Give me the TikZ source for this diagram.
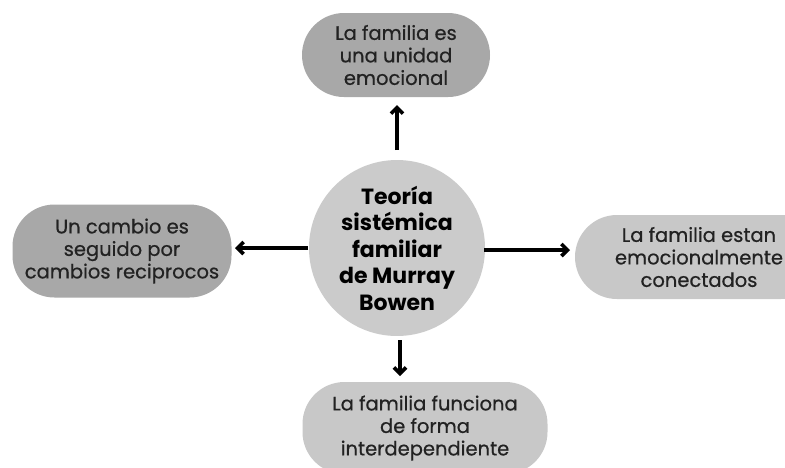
\documentclass[tikz,border=0pt]{standalone}
\usepackage{fontspec}
\setmainfont{Poppins}
\newfontfamily\pillfont{Poppins}[FakeBold=0.6]
\usetikzlibrary{arrows.meta,shapes.geometric}
\definecolor{boxdark}{HTML}{A8A8A8}
\definecolor{boxlight}{HTML}{C8C8C8}
\definecolor{circfill}{HTML}{CBCBCB}
\definecolor{txt}{HTML}{222222}
\tikzset{
  pill/.style={rectangle, rounded corners=42pt, inner sep=0pt, align=center,
    text=txt, font=\pillfont\fontsize{19.5}{22.5}\selectfont},
  hub/.style={ellipse, fill=circfill, inner sep=0pt, align=center,
    font=\fontsize{22}{26.5}\selectfont\bfseries, text=black},
  link/.style={line width=3.6pt, -{Straight Barb[length=6pt,width=12pt]}}
}
\begin{document}
\begin{tikzpicture}[x=1pt,y=-1pt]
\useasboundingbox[fill=white] (0,0) rectangle (785,467);
\node[hub, minimum width=176pt, minimum height=162pt] (c) at (397,248)
  {Teoría\\sistémica\\familiar\\de Murray\\Bowen};
\node[pill, fill=boxdark, minimum width=188pt, minimum height=84pt] (t) at (396,55)
  {La familia es\\una unidad\\emocional};
\node[pill, fill=boxdark, minimum width=219pt, minimum height=93pt] (l) at (122,251)
  {Un cambio es\\seguido por\\cambios reciprocos};
\node[pill, fill=boxlight, minimum width=248pt, minimum height=84pt] (r) at (699,257)
  {La familia estan\\emocionalmente\\conectados};
\node[pill, fill=boxlight, minimum width=245pt, minimum height=92pt] (b) at (425,428)
  {La familia funciona\\de forma\\interdependiente};
\coordinate (ct) at (397,150);
\coordinate (cl) at (308,248);
\coordinate (cr) at (484,250);
\coordinate (cb) at (400,340);
\coordinate (tt) at (397,105);
\coordinate (lt) at (235,248);
\coordinate (rt) at (570,250);
\coordinate (bt) at (400,376);
\draw[link] (ct) -- (tt);
\draw[link] (cl) -- (lt);
\draw[link] (cr) -- (rt);
\draw[link] (cb) -- (bt);
\end{tikzpicture}
\end{document}
